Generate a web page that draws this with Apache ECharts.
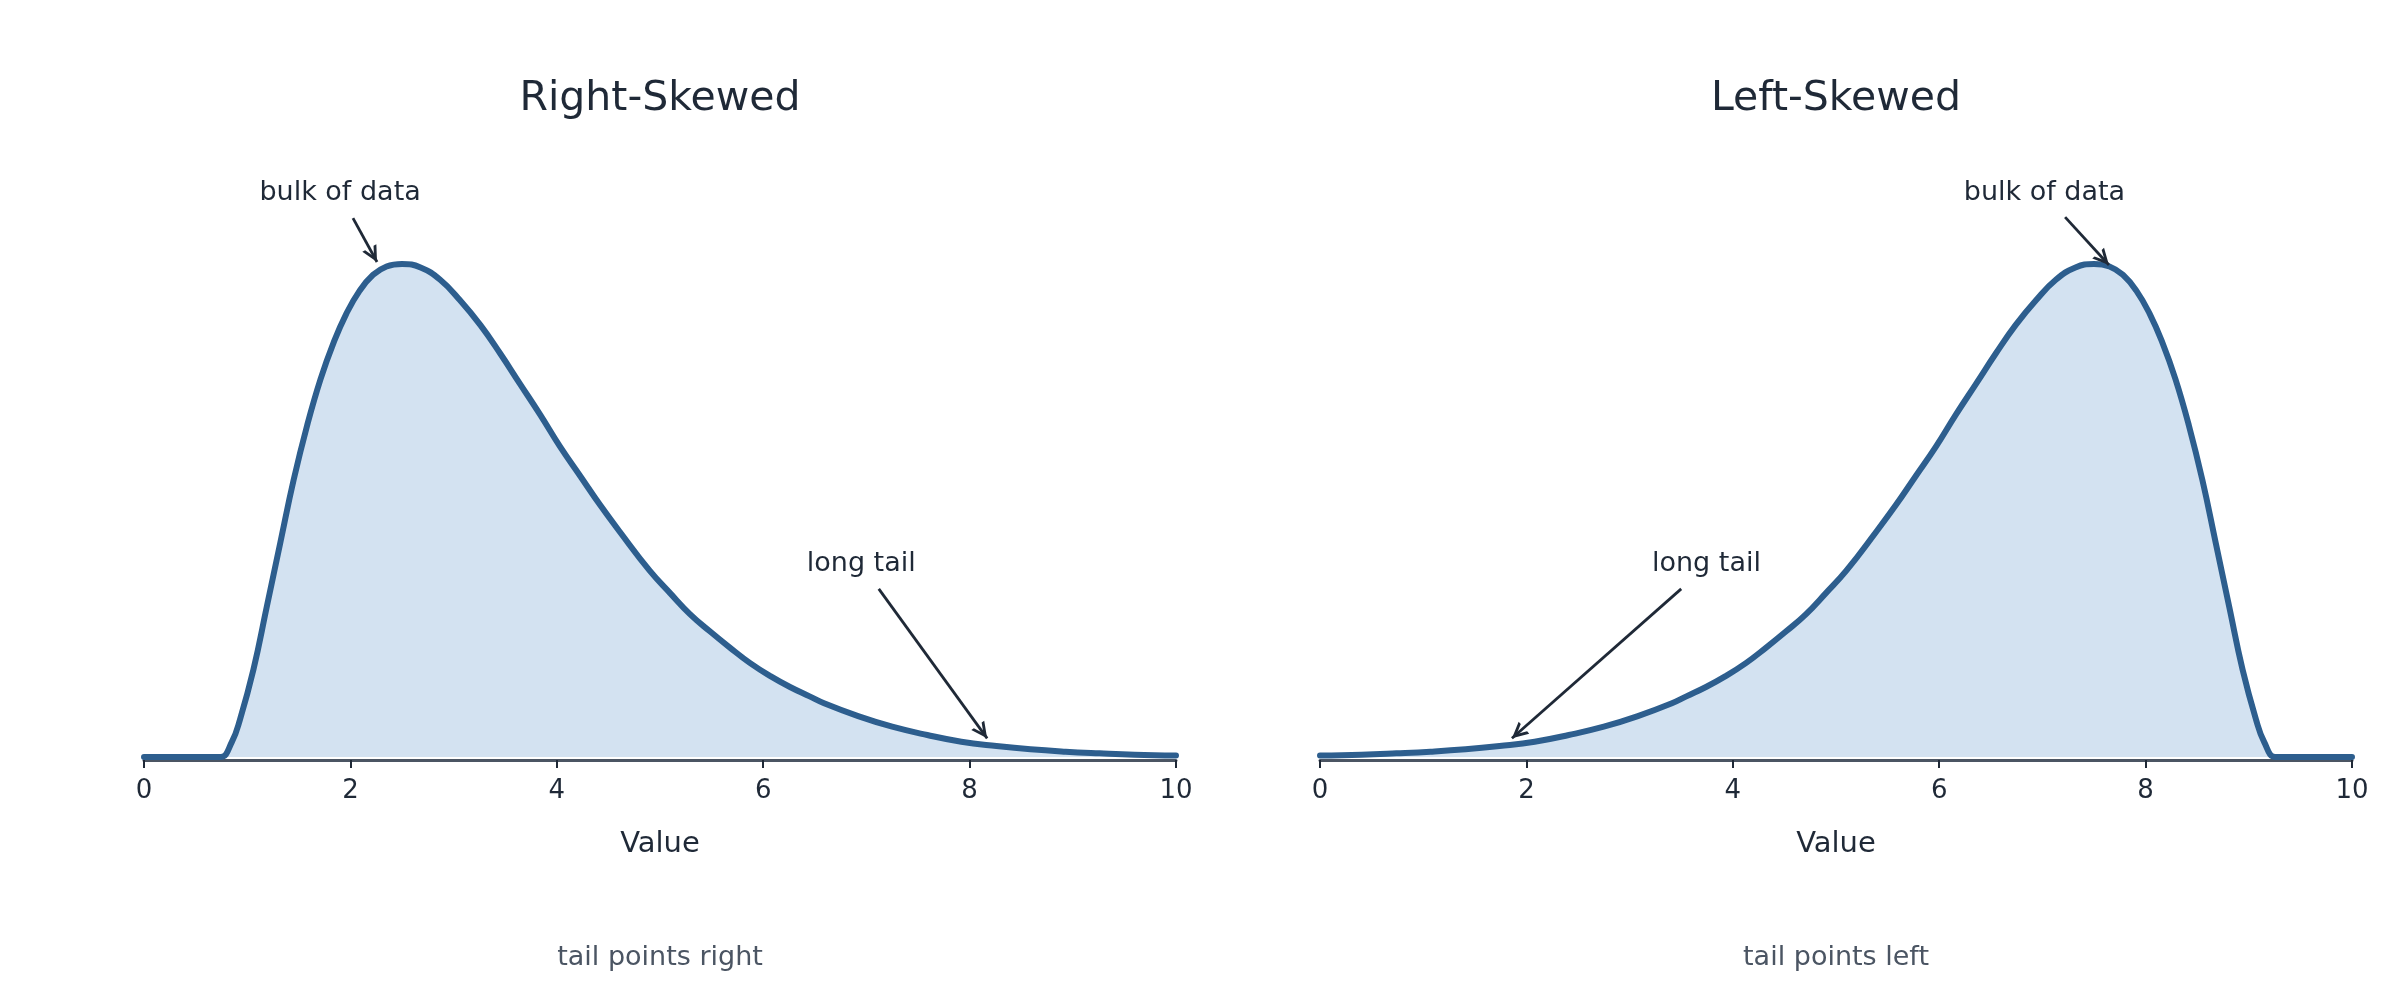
<!DOCTYPE html>
<html>
<head>
<meta charset="utf-8">
<script src="https://cdn.jsdelivr.net/npm/echarts@6/dist/echarts.min.js"></script>
<style>
  html, body { margin: 0; padding: 0; background: #ffffff; }
  #chart { width: 2400px; height: 1000px; }
</style>
</head>
<body>
<div id="chart"></div>
<script>
// ---------------- data ----------------
const panelTitles = ['Right-Skewed', 'Left-Skewed'];
const panelNotes = ['tail points right', 'tail points left'];
const axisName = 'Value';
const xTicks = [0, 2, 4, 6, 8, 10];

// relative density (peak = 1)
const rightX = [0, 0.25, 0.5, 0.74, 0.85, 0.93, 1.06, 1.19, 1.32, 1.45, 1.58, 1.71, 1.84, 1.96, 2.09, 2.22, 2.35, 2.5, 2.68, 2.87, 3.06, 3.26, 3.45, 3.64, 3.84, 4.03, 4.23, 4.42, 4.61, 4.90, 5.10, 5.29, 5.48, 5.68, 5.87, 6.07, 6.26, 6.45, 6.59, 6.92, 7.25, 7.59, 7.92, 8.26, 8.59, 8.93, 9.26, 9.6, 10];
const rightY = [0, 0, 0, 0, 0.03, 0.076, 0.177, 0.305, 0.434, 0.562, 0.672, 0.766, 0.842, 0.899, 0.946, 0.978, 0.995, 1.0, 0.993, 0.968, 0.927, 0.876, 0.819, 0.758, 0.694, 0.63, 0.569, 0.511, 0.457, 0.378, 0.332, 0.290, 0.2555, 0.2215, 0.191, 0.164, 0.142, 0.123, 0.109, 0.083, 0.0615, 0.0446, 0.031, 0.0223, 0.0156, 0.0108, 0.0075, 0.0047, 0.003];

const leftX = [0, 0.4, 0.74, 1.07, 1.41, 1.74, 2.08, 2.41, 2.75, 3.08, 3.41, 3.55, 3.74, 3.93, 4.13, 4.32, 4.52, 4.71, 4.90, 5.10, 5.39, 5.58, 5.77, 5.97, 6.16, 6.36, 6.55, 6.74, 6.94, 7.13, 7.32, 7.5, 7.65, 7.78, 7.91, 8.04, 8.16, 8.29, 8.42, 8.55, 8.68, 8.81, 8.94, 9.07, 9.15, 9.26, 9.5, 9.75, 10];
const leftY = [0.003, 0.0047, 0.0075, 0.0108, 0.0156, 0.0223, 0.031, 0.0446, 0.0615, 0.083, 0.109, 0.123, 0.142, 0.164, 0.191, 0.2215, 0.2555, 0.290, 0.332, 0.378, 0.457, 0.511, 0.569, 0.63, 0.694, 0.758, 0.819, 0.876, 0.927, 0.968, 0.993, 1.0, 0.995, 0.978, 0.946, 0.899, 0.842, 0.766, 0.672, 0.562, 0.434, 0.305, 0.177, 0.076, 0.03, 0, 0, 0, 0];

// annotation texts and arrow endpoints, in data units
const rightNoteText = ['bulk of data', 'long tail'];
const rightNoteAt = [[1.90, 1.145], [6.95, 0.392]];
const rightArrowFrom = [[2.025, 1.093], [7.12, 0.341]];
const rightArrowTo = [[2.258, 1.004], [8.17, 0.038]];

const leftNoteText = ['bulk of data', 'long tail'];
const leftNoteAt = [[7.02, 1.145], [3.745, 0.392]];
const leftArrowFrom = [[7.22, 1.095], [3.50, 0.341]];
const leftArrowTo = [[7.645, 0.998], [1.86, 0.038]];

// ---------------- styling ----------------
const FONT = 'DejaVu Sans';
const DARK = '#1f2937';
const GREY = '#4b5563';
const LINE = '#2d5e8e';
const FILL = '#d3e2f1';
// open arrow head; tip at symbol centre
const ARROW = 'path://M7,0 L7,0.01 M0,28 L7,14 L14,28 L11.2,28 L7,19.6 L2.8,28 Z';

const grids = [
  { left: 144, width: 1032, top: 165.4, height: 594.6 },
  { left: 1320, width: 1032, top: 165.4, height: 594.6 }
];

function xAxisFor(i) {
  return {
    gridIndex: i, type: 'value',
    min: xTicks[0], max: xTicks[xTicks.length - 1], interval: xTicks[1] - xTicks[0],
    name: axisName, nameLocation: 'middle', nameGap: 70,
    nameTextStyle: { fontSize: 29, color: DARK, fontFamily: FONT },
    axisLine: { show: true, onZero: false, lineStyle: { color: GREY, width: 3 } },
    axisTick: { show: true, length: 8, lineStyle: { color: DARK, width: 2 } },
    axisLabel: { fontSize: 26, margin: 18, color: DARK, fontFamily: FONT },
    splitLine: { show: false }
  };
}
function yAxisFor(i) {
  return { gridIndex: i, type: 'value', min: -0.006, max: 1.2, show: false, splitLine: { show: false } };
}
function seriesFor(i, xs, ys, noteText, noteAt, from, to) {
  return {
    type: 'line', xAxisIndex: i, yAxisIndex: i,
    data: xs.map((x, k) => [x, ys[k]]),
    smooth: 0.45,
    showSymbol: false, symbol: 'none',
    lineStyle: { color: LINE, width: 6, join: 'round', cap: 'round' },
    itemStyle: { color: LINE },
    areaStyle: { color: FILL, opacity: 1, origin: 'auto' },
    z: 2,
    markLine: {
      silent: true, animation: false,
      symbol: ['none', ARROW], symbolSize: [16, 32],
      lineStyle: { color: DARK, width: 2.8, type: 'solid' },
      label: { show: false },
      emphasis: { disabled: true },
      data: from.map((f, k) => [{ coord: f }, { coord: to[k] }])
    },
    markPoint: {
      silent: true, animation: false,
      symbol: 'circle', symbolSize: 0,
      itemStyle: { color: 'rgba(0,0,0,0)' },
      label: { show: true, position: 'inside', formatter: '{b}', fontSize: 27, color: DARK, fontFamily: FONT },
      data: noteAt.map((c, k) => ({ name: noteText[k], coord: c }))
    }
  };
}

const chart = echarts.init(document.getElementById('chart'), null, { renderer: 'canvas' });
chart.setOption({
  backgroundColor: '#ffffff',
  animation: false,
  textStyle: { fontFamily: FONT },
  title: [
    { text: panelTitles[0], left: 660, top: 78.5, textAlign: 'center', padding: 0,
      textStyle: { fontSize: 41, fontWeight: 'normal', color: DARK, fontFamily: FONT } },
    { text: panelTitles[1], left: 1836, top: 78.5, textAlign: 'center', padding: 0,
      textStyle: { fontSize: 41, fontWeight: 'normal', color: DARK, fontFamily: FONT } },
    { text: panelNotes[0], left: 660, top: 944.5, textAlign: 'center', padding: 0,
      textStyle: { fontSize: 27, fontWeight: 'normal', color: GREY, fontFamily: FONT } },
    { text: panelNotes[1], left: 1836, top: 944.5, textAlign: 'center', padding: 0,
      textStyle: { fontSize: 27, fontWeight: 'normal', color: GREY, fontFamily: FONT } }
  ],
  grid: grids,
  xAxis: [xAxisFor(0), xAxisFor(1)],
  yAxis: [yAxisFor(0), yAxisFor(1)],
  series: [
    seriesFor(0, rightX, rightY, rightNoteText, rightNoteAt, rightArrowFrom, rightArrowTo),
    seriesFor(1, leftX, leftY, leftNoteText, leftNoteAt, leftArrowFrom, leftArrowTo)
  ]
});
</script>
</body>
</html>
